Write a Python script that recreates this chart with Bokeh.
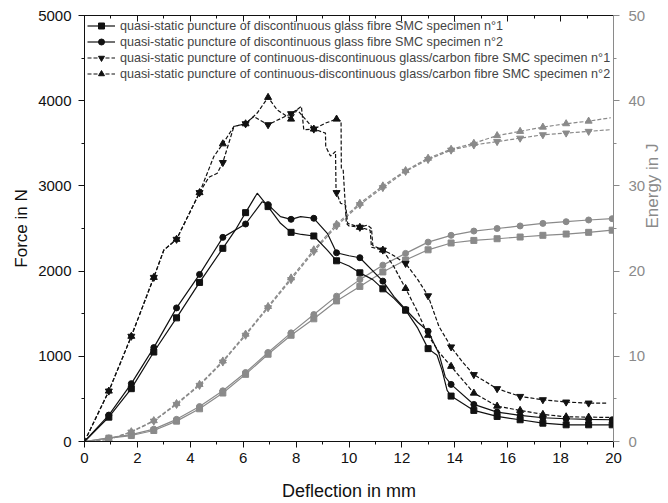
import math
from bokeh.plotting import figure
from bokeh.models import (Range1d, LinearAxis, SingleIntervalTicker, Legend, LegendItem,
                          CustomJSTickFormatter)
from bokeh.embed import file_html
from bokeh.resources import INLINE

# ---------------- data ----------------
MARK_X = [0.92, 1.77, 2.62, 3.48, 4.35, 5.23, 6.09, 6.94, 7.81, 8.67, 9.53, 10.41,
          11.28, 12.14, 12.99, 13.86, 14.72, 15.60, 16.47, 17.33, 18.21, 19.06, 19.95]

# Force (N) - discontinuous glass fibre SMC n°1 (squares)
F1_MARK = [286, 620, 1050, 1451, 1867, 2267, 2686, 2757, 2455, 2412, 2121, 1980,
           1792, 1541, 1090, 533, 365, 294, 255, 215, 196, 196, 196]
F1_EX_X = [0.0, 5.70, 6.53, 7.41, 8.20, 9.18, 10.00, 10.90, 11.70, 12.60, 13.33, 13.52, 13.71]
F1_EX_Y = [0, 2480, 2914, 2561, 2430, 2247, 2060, 1900, 1680, 1330, 1012, 835, 600]

# Force (N) - discontinuous glass fibre SMC n°2 (circles)
F2_MARK = [310, 679, 1102, 1568, 1961, 2396, 2553, 2780, 2608, 2620, 2215, 2157,
           1882, 1549, 1294, 670, 435, 345, 306, 279, 267, 259, 255]
F2_EX_X = [0.0, 6.72, 7.41, 8.17, 9.18, 10.00, 11.70, 12.60, 13.40, 13.64]
F2_EX_Y = [0, 2815, 2639, 2639, 2443, 2180, 1700, 1400, 1031, 757]

# Force (N) - continuous-discontinuous glass/carbon SMC n°1 (down triangles)
F3_MARK = [592, 1235, 1926, 2373, 2921, 3274, 3729, 3718, 3847, 3667, 2921, 2514,
           2247, 2090, 1710, 1110, 785, 620, 529, 490, 463, 451]
F3_EX_X = [0.0, 3.00, 4.70, 5.02, 5.65, 6.40, 7.28, 8.20, 8.29, 9.11, 9.12, 9.30,
           9.49, 9.51, 9.68, 9.87, 9.95, 10.70, 10.85, 10.90, 11.60, 12.60, 13.40, 14.30, 19.80]
F3_EX_Y = [0, 2247, 3100, 3149, 3698, 3815, 3770, 3933, 3659, 3620, 3462, 3350,
           3404, 2953, 2796, 2776, 2560, 2540, 2500, 2300, 2200, 1900, 1350, 930, 451]

# Force (N) - continuous-discontinuous glass/carbon SMC n°2 (up triangles)
F4_MARK = [592, 1235, 1926, 2373, 2921, 3494, 3729, 4039, 3784, 3667, 3784, 2514,
           2247, 1796, 1247, 882, 568, 415, 365, 318, 290, 286]
F4_EX_X = [0.0, 3.00, 4.89, 5.65, 6.53, 7.28, 8.04, 9.11, 9.70, 9.71, 9.78, 9.90,
           10.00, 10.80, 10.85, 11.70, 12.55, 13.40, 19.90]
F4_EX_Y = [0, 2247, 3345, 3698, 3855, 3894, 3894, 3737, 3760, 3210, 3190, 2560,
           2530, 2480, 2280, 2050, 1549, 1050, 282]

# Energy (J)
E1_MARK = [0.39, 0.70, 1.29, 2.39, 3.84, 5.69, 7.88, 10.24, 12.47, 14.4, 16.5, 18.2,
           19.9, 21.3, 22.5, 23.3, 23.6, 23.8, 24.0, 24.2, 24.35, 24.55, 24.8]
E2_MARK = [0.42, 0.80, 1.45, 2.60, 4.10, 5.95, 8.10, 10.45, 12.75, 14.9, 17.06, 19.0,
           20.7, 22.08, 23.4, 24.2, 24.7, 25.0, 25.3, 25.6, 25.8, 26.0, 26.15]
E3_MARK = [0.24, 1.10, 2.39, 4.35, 6.59, 9.33, 12.47, 15.7, 19.0, 22.3, 25.3, 27.8,
           29.8, 31.7, 33.1, 34.2, 34.8, 35.2, 35.6, 36.0, 36.2, 36.4]
E3_END = (19.9, 36.6)
E4_MARK = [0.24, 1.15, 2.45, 4.45, 6.70, 9.45, 12.6, 15.85, 19.2, 22.5, 25.5, 27.96,
           30.0, 31.8, 33.25, 34.3, 35.0, 35.9, 36.4, 36.9, 37.3, 37.6]
E4_END = (19.9, 38.0)

LABELS = [
    "quasi-static puncture of discontinuous glass fibre SMC specimen n°1",
    "quasi-static puncture of discontinuous glass fibre SMC specimen n°2",
    "quasi-static puncture of continuous-discontinuous glass/carbon fibre SMC specimen n°1",
    "quasi-static puncture of continuous-discontinuous glass/carbon fibre SMC specimen n°2",
]


def merged(mx, my, ex, ey):
    pts = list(zip(mx, my)) + list(zip(ex, ey))
    pts.sort(key=lambda t: t[0])
    return [t[0] for t in pts], [t[1] for t in pts]


FONT = "Liberation Sans"
GRAY = "#8a8a8a"
BLACK = "#111111"

p = figure(frame_width=529, frame_height=426,
           x_range=Range1d(0, 20), y_range=Range1d(0, 5000),
           output_backend="svg", toolbar_location=None,
           min_border_left=84, min_border_right=50, min_border_top=15, min_border_bottom=58,
           x_axis_location=None, y_axis_location=None)
p.extra_y_ranges = {"energy": Range1d(0, 50)}
p.xgrid.visible = False
p.ygrid.visible = False
p.outline_line_color = None
p.background_fill_color = "white"
p.border_fill_color = "white"


def style_axis(ax, color, label_size="15px"):
    ax.axis_line_color = color
    ax.major_tick_line_color = color
    ax.minor_tick_line_color = color
    ax.major_label_text_color = color
    ax.major_label_text_font = FONT
    ax.major_label_text_font_size = label_size
    ax.axis_label_text_font = FONT
    ax.axis_label_text_font_size = "18px"
    ax.axis_label_text_font_style = "normal"
    ax.axis_label_text_color = color
    ax.major_tick_in = 0
    ax.major_tick_out = 6
    ax.minor_tick_in = 0
    ax.minor_tick_out = 3


xb = LinearAxis(ticker=SingleIntervalTicker(interval=2, num_minor_ticks=2),
                axis_label="Deflection in mm")
style_axis(xb, BLACK)
xb.major_label_standoff = 5
xb.axis_label_standoff = 15
p.add_layout(xb, "below")

yl = LinearAxis(ticker=SingleIntervalTicker(interval=1000, num_minor_ticks=2),
                axis_label="Force in N")
style_axis(yl, BLACK)
yl.axis_label_text_font_size = "17px"
yl.major_label_standoff = 7
yl.axis_label_standoff = 4
p.add_layout(yl, "left")

yr = LinearAxis(y_range_name="energy",
                ticker=SingleIntervalTicker(interval=10, num_minor_ticks=2),
                axis_label="Energy in J")
style_axis(yr, GRAY)
yr.axis_label_text_font_size = "17px"
yr.major_label_standoff = 9
yr.axis_label_standoff = 4
yr.axis_label_orientation = math.pi / 2
p.add_layout(yr, "right")

xt = LinearAxis(ticker=SingleIntervalTicker(interval=2, num_minor_ticks=2),
                formatter=CustomJSTickFormatter(code="return '';"))
style_axis(xt, BLACK)
xt.major_tick_in = 6
xt.major_tick_out = 0
xt.minor_tick_in = 3
xt.minor_tick_out = 0
xt.major_label_standoff = 0
p.add_layout(xt, "above")

items = []
force_specs = [
    (F1_MARK, F1_EX_X, F1_EX_Y, "square", None, 6),
    (F2_MARK, F2_EX_X, F2_EX_Y, "circle", None, 6),
    (F3_MARK, F3_EX_X, F3_EX_Y, "inverted_triangle", "4 2", 7),
    (F4_MARK, F4_EX_X, F4_EX_Y, "triangle", "4 2", 7),
]
energy_specs = [
    (E1_MARK, None, "square", None, 6),
    (E2_MARK, None, "circle", None, 6),
    (E3_MARK, E3_END, "inverted_triangle", "4 2", 7),
    (E4_MARK, E4_END, "triangle", "4 2", 7),
]

for (em, eend, mk, dash, sz) in energy_specs:
    mx = MARK_X[:len(em)]
    lx = [0.0] + mx
    ly = [0.0] + em
    if eend is not None:
        lx.append(eend[0])
        ly.append(eend[1])
    kw = dict(line_dash=dash) if dash else {}
    p.line(lx, ly, y_range_name="energy", line_color=GRAY, line_width=1.2, **kw)
    p.scatter(mx, em, y_range_name="energy", marker=mk, size=sz,
              fill_color=GRAY, line_color=GRAY)

for i, (fm, exx, exy, mk, dash, sz) in enumerate(force_specs):
    mx = MARK_X[:len(fm)]
    lx, ly = merged(mx, fm, exx, exy)
    kw = dict(line_dash=dash) if dash else {}
    r1 = p.line(lx, ly, line_color=BLACK, line_width=1.2, **kw)
    r2 = p.scatter(mx, fm, marker=mk, size=sz, fill_color=BLACK, line_color=BLACK)
    items.append(LegendItem(label=LABELS[i], renderers=[r1, r2]))

legend = Legend(items=items, location="top_left",
                label_text_font=FONT, label_text_font_size="12.6px",
                glyph_width=28, glyph_height=15, label_height=15, label_standoff=5,
                spacing=1, padding=3, margin=0,
                background_fill_alpha=0, border_line_alpha=0)
p.add_layout(legend, "center")

open("out.html", "w").write(file_html(p, INLINE))
